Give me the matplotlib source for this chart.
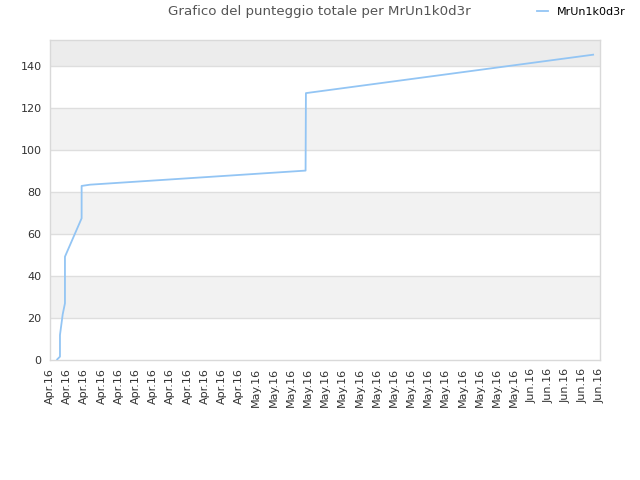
import matplotlib
matplotlib.use("Agg")
import matplotlib.pyplot as plt

# ---------------------------------------------------
# Data
# ---------------------------------------------------
player = "MrUn1k0d3r"

# x in tick units (0 = first tick, 32 = last tick), y = total score
score_x = [0.42, 0.58, 0.58, 0.74, 0.87, 0.87, 1.84, 1.84, 2.33, 14.87, 14.89, 31.6]
score_y = [0.3, 1.6, 11.9, 21.8, 27.0, 49.2, 67.5, 82.9, 83.5, 90.2, 127.1, 145.4]

tick_labels = ["Apr.16"] * 12 + ["May.16"] * 16 + ["Jun.16"] * 5
y_ticks = [0, 20, 40, 60, 80, 100, 120, 140]

# ---------------------------------------------------
# Figure
# ---------------------------------------------------
fig = plt.figure(figsize=(6.4, 4.8), dpi=100)
ax = fig.add_axes([50 / 640, 1 - 360 / 480, 550 / 640, 320 / 480])

y_top = 152.4
ax.set_xlim(0, len(tick_labels) - 1)
ax.set_ylim(0, y_top)

# alternating horizontal bands
for i, lo in enumerate(y_ticks):
    hi = lo + 20
    if i % 2 == 1:
        color = "#ececec" if lo >= 140 else "#f2f2f2"
        ax.axhspan(lo, min(hi, y_top), color=color, zorder=0, lw=0)
for v in y_ticks[1:]:
    ax.axhline(v, color="#dedede", lw=1, zorder=1)

ax.plot(score_x, score_y, color="#93c5f4", lw=1.3, zorder=3, label=player)

ax.set_xticks(range(len(tick_labels)))
ax.set_xticklabels(tick_labels, rotation=90, fontsize=8, color="#333333")
ax.set_yticks(y_ticks)
ax.set_yticklabels([str(v) for v in y_ticks], fontsize=8, color="#333333")
ax.tick_params(length=0, pad=6)

for s in ax.spines.values():
    s.set_color("#d9d9d9")
    s.set_linewidth(1)

fig.text(319 / 640, 1 - 12 / 480, "Grafico del punteggio totale per " + player,
         ha="center", va="center", fontsize=9.6, color="#555555")

fig.legend(loc="center left", bbox_to_anchor=(537 / 640, 1 - 12 / 480),
           frameon=False, fontsize=8, handlelength=1.0, handletextpad=0.8,
           borderaxespad=0, borderpad=0)

fig.savefig("out.png", dpi=100)
